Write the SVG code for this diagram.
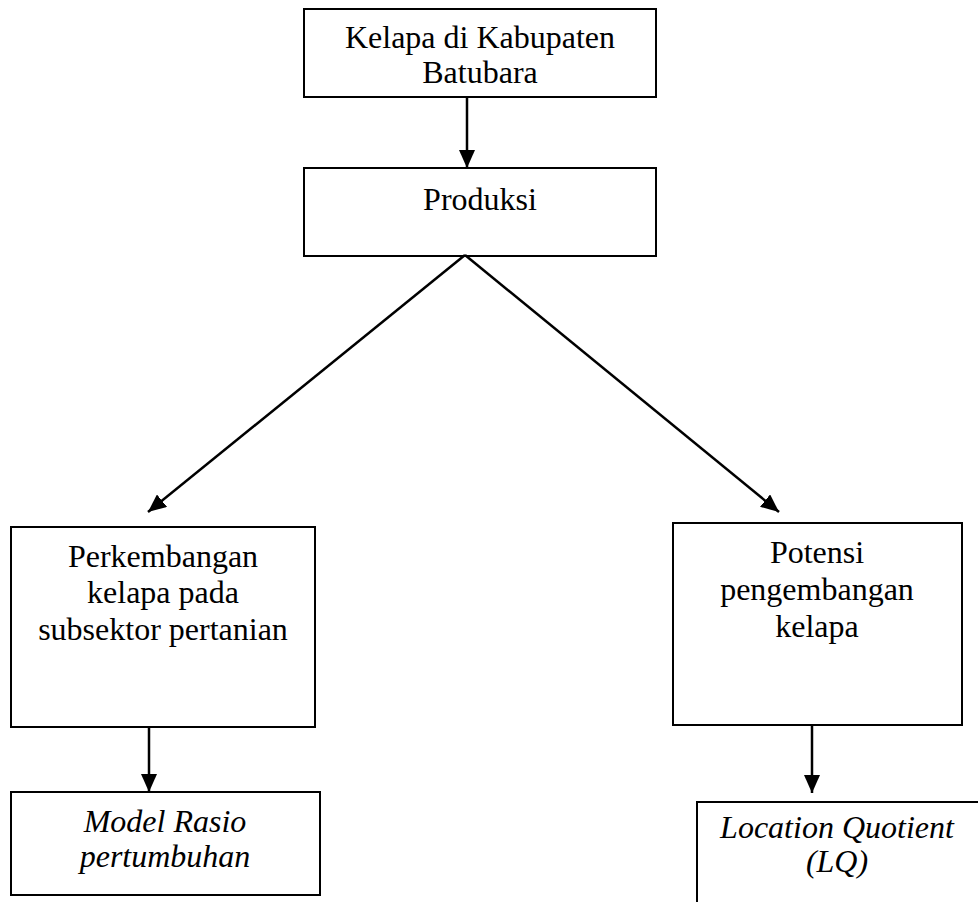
<svg xmlns="http://www.w3.org/2000/svg" width="978" height="902" viewBox="0 0 978 902">
<defs>
<style>
.box{fill:#fff;stroke:#000;stroke-width:2}
.t{font-family:"Liberation Serif","Times New Roman",serif;font-size:32px;fill:#000;text-anchor:middle}
.i{font-style:italic}
.c{stroke:#000;stroke-width:2.5;fill:none}
</style>
<marker id="ah" markerWidth="18" markerHeight="16" refX="18" refY="8" orient="auto" markerUnits="userSpaceOnUse">
<path d="M0,0 L18,8 L0,16 Z" fill="#000"/>
</marker>
</defs>
<rect width="978" height="902" fill="#fff"/>
<g id="n1">
<rect class="box" x="304" y="9" width="352" height="88"/>
<text class="t" x="480" y="48">Kelapa di Kabupaten</text>
<text class="t" x="480" y="83">Batubara</text>
</g>
<g id="n2">
<rect class="box" x="304" y="168" width="352" height="88"/>
<text class="t" x="480" y="210">Produksi</text>
</g>
<g id="n3">
<rect class="box" x="11" y="527" width="304" height="200"/>
<text class="t" x="163" y="567">Perkembangan</text>
<text class="t" x="163" y="603">kelapa pada</text>
<text class="t" x="163" y="640">subsektor pertanian</text>
</g>
<g id="n4">
<rect class="box" x="673" y="523" width="289" height="202"/>
<text class="t" x="817" y="563">Potensi</text>
<text class="t" x="817" y="600">pengembangan</text>
<text class="t" x="817" y="637">kelapa</text>
</g>
<g id="n5">
<rect class="box" x="11" y="792" width="309" height="103"/>
<text class="t i" x="165" y="832">Model Rasio</text>
<text class="t i" x="165" y="867">pertumbuhan</text>
</g>
<g id="n6">
<rect class="box" x="697" y="802" width="300" height="120"/>
<text class="t i" x="837" y="838">Location Quotient</text>
<text class="t i" x="837" y="872">(LQ)</text>
</g>
<g id="connectors">
<line class="c" x1="467" y1="97" x2="467" y2="168" marker-end="url(#ah)"/>
<line class="c" x1="465" y1="255" x2="148" y2="512" marker-end="url(#ah)"/>
<line class="c" x1="465" y1="255" x2="779" y2="512" marker-end="url(#ah)"/>
<line class="c" x1="149" y1="727" x2="149" y2="792" marker-end="url(#ah)"/>
<line class="c" x1="812" y1="725" x2="812" y2="793" marker-end="url(#ah)"/>
</g>
</svg>
